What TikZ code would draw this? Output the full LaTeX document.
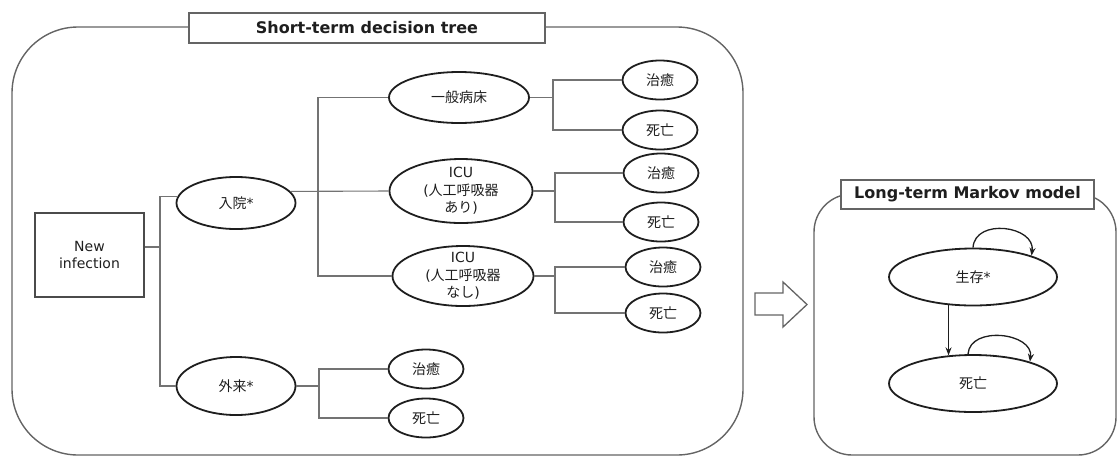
\documentclass[tikz,border=0pt]{standalone}
\usepackage{fontspec}
\setmainfont{DejaVu Sans}
\newfontfamily\jp{Noto Sans CJK JP}
\usetikzlibrary{arrows.meta, positioning, shapes.geometric}

\definecolor{linegray}{RGB}{115,115,115}
\definecolor{framegray}{RGB}{100,100,100}
\definecolor{inkgray}{RGB}{30,30,30}

\begin{document}
\begin{tikzpicture}[x=1pt, y=-1pt, thick, >={Stealth[length=8pt, width=6pt]}, font=\fontsize{14}{17.5}\selectfont, text=inkgray]

	% Define styles
	\tikzstyle{frame} = [draw=framegray, line width=1.4pt]
	\tikzstyle{heading} = [rectangle, draw=framegray, fill=white, line width=1.4pt, inner sep=0pt, font=\fontsize{16}{19}\selectfont\bfseries]
	\tikzstyle{decision} = [rectangle, draw=inkgray!80, line width=1.8pt, align=center]
	\tikzstyle{chance} = [ellipse, draw=inkgray, line width=1.8pt, inner sep=0pt]
	\tikzstyle{outcome} = [chance, minimum width=75pt, minimum height=39pt]
	\tikzstyle{branch} = [draw=linegray, line width=1.1pt]
	\tikzstyle{transition} = [->, draw=inkgray, line width=1.3pt]

	\useasboundingbox (0,0) rectangle (1118,456);

	% Frames and titles
	\draw[frame, rounded corners=66pt] (12,27) rectangle (743,455);
	\draw[frame, rounded corners=38pt] (814,194) rectangle (1116,455);
	\node[heading, minimum width=356pt, minimum height=30pt] (stitle) at (367,28) {Short-term decision tree};
	\node[heading, minimum width=253pt, minimum height=29pt] (ltitle) at (967.5,194.5) {Long-term Markov model};

	% Decision tree nodes
	\node[decision, minimum width=109pt, minimum height=84pt] (newinf) at (89.5,255) {New\\infection};
	\node[chance, minimum width=119pt, minimum height=52pt] (hosp) at (236,203) {{\jp 入院}*};
	\node[chance, minimum width=119pt, minimum height=58pt] (outp) at (236,386) {{\jp 外来}*};
	\node[chance, minimum width=140pt, minimum height=51pt] (ward) at (459,97.5) {\jp 一般病床};
	\node[chance, minimum width=143pt, minimum height=64pt, label={[align=center]center:ICU\\({\jp 人工呼吸器}\\{\jp あり})}] (icuvent) at (461,191) {};
	\node[chance, minimum width=141pt, minimum height=60pt, label={[align=center]center:ICU\\({\jp 人工呼吸器}\\{\jp なし})}] (icunovent) at (463,276) {};

	% Outcomes
	\node[outcome] (cure1) at (660,80) {\jp 治癒};
	\node[outcome, below of=cure1, node distance=50pt] (death1) {\jp 死亡};
	\node[outcome] (cure2) at (661,173) {\jp 治癒};
	\node[outcome, below of=cure2, node distance=49pt] (death2) {\jp 死亡};
	\node[outcome] (cure3) at (663,267) {\jp 治癒};
	\node[outcome, below of=cure3, node distance=46pt] (death3) {\jp 死亡};
	\node[outcome] (cure4) at (426,369) {\jp 治癒};
	\node[outcome, below of=cure4, node distance=49pt] (death4) {\jp 死亡};

	% Markov states
	\node[chance, minimum width=168pt, minimum height=57pt] (alive) at (973,277) {{\jp 生存}*};
	\node[chance, minimum width=168pt, minimum height=57pt, below of=alive, node distance=106.5pt] (dead) {\jp 死亡};

	% Branch points
	\coordinate (j1) at (160,247);
	\coordinate (j2) at (318,191);
	\coordinate (k1) at (553,97.5);
	\coordinate (k2) at (555,191);
	\coordinate (k3) at (555,276);
	\coordinate (k4) at (319,386);

	% Branches
	\draw[branch] ([yshift=8pt]newinf.east) -- (j1);
	\draw[branch] (hosp.174) -| (j1) |- (outp.west);
	\draw[branch] (ward.west) -| (j2) |- (icunovent.west);
	\draw[branch] (hosp.12) -- (icuvent.west);
	\draw[branch] (ward.east) -- (k1);
	\draw[branch] (cure1.west) -| (k1) |- (death1.west);
	\draw[branch] (icuvent.east) -- (k2);
	\draw[branch] (cure2.west) -| (k2) |- (death2.west);
	\draw[branch] (icunovent.east) -- (k3);
	\draw[branch] (cure3.west) -| (k3) |- (death3.west);
	\draw[branch] (outp.east) -- (k4);
	\draw[branch] (cure4.west) -| (k4) |- (death4.west);

	% Hollow arrow between the models
	\draw[frame, line width=1.3pt] (755,293) -- (783,293) -- (783,282) -- (807,304.5) -- (783,327) -- (783,315) -- (755,315) -- cycle;

	% Transitions
	\draw[transition] (alive.229) -- (dead.131);
	\draw[transition] (alive.north) .. controls +(2,-30) and +(4,-30) .. (alive.20);
	\draw[transition] ([xshift=-5pt]dead.north) .. controls +(2,-29) and +(4,-29) .. (dead.21);

\end{tikzpicture}
\end{document}
